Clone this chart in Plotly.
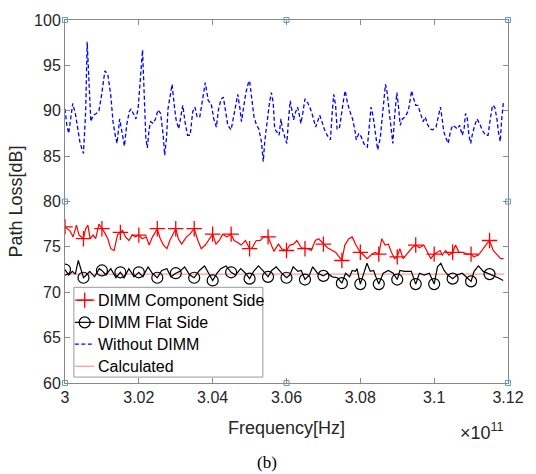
import numpy as np
import plotly.graph_objects as go

# ---------------- data (frequency in GHz, path loss in dB) ----------------
blue_f = [300.0, 300.05, 300.10, 300.17, 300.21, 300.28, 300.35, 300.41, 300.50, 300.56,
          300.60, 300.65, 300.70, 300.76, 300.85, 300.92, 300.99, 301.08, 301.16, 301.24,
          301.30, 301.36, 301.41, 301.48, 301.54, 301.61, 301.67, 301.74, 301.79, 301.86,
          301.92, 301.98, 302.04, 302.10, 302.14, 302.19, 302.23, 302.28, 302.32, 302.39,
          302.45, 302.52, 302.59, 302.66, 302.70, 302.75, 302.79, 302.85, 302.90, 302.96,
          303.01, 303.08, 303.14, 303.19, 303.25, 303.32, 303.39, 303.46, 303.52, 303.58,
          303.65, 303.72, 303.80, 303.88, 303.96, 304.03, 304.10, 304.16, 304.23, 304.29,
          304.35, 304.41, 304.50, 304.56, 304.63, 304.68, 304.74, 304.78, 304.84, 304.90,
          304.97, 305.00, 305.06, 305.12, 305.19, 305.25, 305.32, 305.37, 305.41, 305.48,
          305.54, 305.59, 305.64, 305.68, 305.74, 305.80, 305.85, 305.89, 305.96, 306.01,
          306.05, 306.10, 306.14, 306.19, 306.25, 306.30, 306.35, 306.39, 306.44, 306.50,
          306.57, 306.63, 306.69, 306.75, 306.79, 306.84, 306.90, 306.96, 307.03, 307.10,
          307.19, 307.24, 307.28, 307.33, 307.37, 307.43, 307.49, 307.55, 307.59, 307.65,
          307.72, 307.79, 307.85, 307.89, 307.96, 308.03, 308.05, 308.12, 308.19, 308.23,
          308.29, 308.35, 308.41, 308.47, 308.54, 308.61, 308.68, 308.72, 308.78, 308.84,
          308.88, 308.93, 308.99, 309.03, 309.08, 309.14, 309.21, 309.30, 309.39, 309.43,
          309.50, 309.56, 309.63, 309.70, 309.76, 309.81, 309.88, 309.96, 310.05, 310.11,
          310.17, 310.21, 310.26, 310.32, 310.38, 310.44, 310.50, 310.57, 310.63, 310.69,
          310.76, 310.81, 310.85, 310.90, 310.94, 310.99, 311.03, 311.10, 311.16, 311.23,
          311.30, 311.39, 311.46, 311.52, 311.58, 311.64, 311.70, 311.74, 311.79, 311.83,
          311.88]
blue_v = [90.2, 88.4, 87.5, 89.9, 90.8, 89.7, 87.7, 86.4, 85.3, 89.9,
          97.6, 92.4, 88.8, 89.5, 89.7, 90.0, 91.7, 94.4, 94.0, 91.7,
          88.8, 87.3, 86.4, 89.1, 87.7, 86.1, 88.4, 89.9, 90.2, 89.5,
          89.1, 90.2, 93.1, 96.7, 92.4, 87.0, 85.9, 88.0, 88.8, 88.6,
          89.1, 90.1, 89.7, 87.3, 85.1, 87.0, 90.2, 92.0, 92.9, 90.6,
          89.0, 88.0, 89.5, 90.6, 88.8, 87.3, 87.3, 89.9, 90.4, 89.3,
          89.3, 91.0, 93.1, 91.1, 90.8, 89.1, 88.2, 90.2, 91.3, 91.5,
          89.9, 88.4, 87.9, 89.1, 90.8, 91.8, 90.2, 88.8, 90.4, 92.0,
          93.1, 93.3, 91.3, 89.3, 88.4, 88.0, 86.6, 84.4, 86.6, 89.1,
          90.9, 92.0, 90.9, 88.0, 87.7, 87.3, 89.1, 88.0, 87.0, 86.4,
          88.8, 91.1, 90.2, 89.0, 89.9, 90.4, 89.5, 88.6, 89.7, 91.3,
          90.9, 90.4, 89.7, 88.8, 88.2, 88.8, 89.5, 88.8, 87.9, 87.3,
          86.8, 89.9, 91.8, 90.6, 88.0, 88.0, 89.9, 91.3, 92.2, 90.9,
          89.9, 89.1, 87.9, 86.8, 87.5, 87.1, 86.8, 86.2, 86.0, 88.0,
          90.4, 89.3, 87.3, 85.7, 87.0, 89.9, 92.9, 92.2, 89.9, 88.0,
          86.4, 89.5, 92.0, 90.6, 88.4, 89.1, 89.3, 90.0, 92.2, 91.5,
          90.6, 90.6, 89.7, 88.8, 89.3, 88.6, 88.0, 87.9, 88.2, 89.3,
          90.4, 89.3, 87.7, 87.0, 86.4, 87.7, 88.4, 88.2, 88.0, 88.4,
          87.3, 88.0, 89.7, 89.1, 87.3, 86.4, 87.3, 88.4, 89.1, 88.6,
          87.9, 87.3, 87.3, 89.1, 90.6, 90.4, 89.1, 87.7, 86.6, 89.1,
          91.1]

red_f = [300.0, 300.13, 300.22, 300.31, 300.38, 300.5, 300.56, 300.62, 300.68, 300.76,
         300.83, 300.92, 301.0, 301.07, 301.16, 301.24, 301.33, 301.42, 301.5, 301.56,
         301.64, 301.73, 301.82, 301.91, 302.0, 302.09, 302.2, 302.28, 302.37, 302.5,
         302.58, 302.67, 302.76, 302.84, 303.0, 303.07, 303.16, 303.29, 303.38, 303.5,
         303.6, 303.69, 303.8, 303.88, 304.0, 304.09, 304.18, 304.27, 304.38, 304.5,
         304.58, 304.67, 304.77, 304.89, 305.0, 305.07, 305.18, 305.29, 305.38, 305.5,
         305.56, 305.66, 305.78, 305.87, 306.0, 306.09, 306.19, 306.28, 306.4, 306.5,
         306.58, 306.67, 306.78, 306.87, 307.0, 307.11, 307.24, 307.33, 307.5, 307.58,
         307.69, 307.78, 307.88, 308.0, 308.09, 308.18, 308.29, 308.4, 308.5, 308.58,
         308.67, 308.76, 308.84, 308.93, 309.0, 309.07, 309.16, 309.29, 309.4, 309.5,
         309.6, 309.72, 309.83, 309.91, 310.0, 310.07, 310.16, 310.22, 310.31, 310.4,
         310.5, 310.58, 310.67, 310.78, 310.89, 311.0, 311.07, 311.2, 311.32, 311.42,
         311.5, 311.6, 311.69, 311.8, 311.88]
red_v = [77.2, 76.8, 76.1, 77.4, 76.3, 75.9, 77.0, 77.4, 75.9, 76.3,
         75.9, 77.5, 77.0, 76.6, 75.9, 74.8, 74.6, 76.3, 76.6, 76.8,
         76.1, 75.7, 76.3, 76.1, 76.3, 75.9, 76.1, 75.2, 76.1, 77.0,
         75.9, 75.2, 74.8, 75.7, 77.0, 75.9, 75.3, 76.1, 76.4, 77.0,
         75.7, 74.8, 75.2, 75.7, 76.4, 75.3, 75.7, 76.4, 76.1, 76.4,
         75.7, 75.5, 75.2, 75.7, 74.8, 74.9, 75.7, 75.7, 76.1, 76.1,
         75.5, 74.5, 75.3, 74.8, 74.6, 75.2, 75.3, 75.7, 74.9, 74.8,
         74.8, 74.6, 75.7, 75.9, 75.3, 74.9, 74.6, 74.4, 73.5, 75.2,
         75.9, 76.1, 75.2, 74.4, 74.1, 73.7, 74.1, 74.4, 74.2, 75.9,
         75.2, 75.3, 74.4, 73.7, 73.9, 74.8, 73.7, 74.4, 74.9, 75.2,
         74.9, 75.2, 74.4, 73.7, 74.2, 74.4, 74.6, 74.1, 74.6, 74.1,
         74.4, 75.2, 74.4, 74.4, 74.2, 74.2, 73.9, 74.1, 74.8, 75.3,
         75.7, 74.6, 74.2, 73.7, 73.7]

black_f = [300.0, 300.1, 300.2, 300.28, 300.36, 300.5, 300.58, 300.67, 300.8, 300.93,
           301.0, 301.11, 301.24, 301.38, 301.5, 301.6, 301.73, 301.87, 302.0, 302.11,
           302.25, 302.36, 302.5, 302.62, 302.76, 302.87, 303.0, 303.11, 303.24, 303.38,
           303.5, 303.64, 303.78, 303.88, 304.0, 304.12, 304.22, 304.36, 304.5, 304.62,
           304.76, 304.89, 305.0, 305.11, 305.24, 305.38, 305.5, 305.6, 305.72, 305.87,
           306.0, 306.09, 306.18, 306.31, 306.4, 306.5, 306.62, 306.71, 306.84, 307.0,
           307.11, 307.24, 307.38, 307.5, 307.6, 307.71, 307.78, 307.87, 307.91, 308.0,
           308.09, 308.18, 308.27, 308.36, 308.42, 308.5, 308.62, 308.76, 308.89, 309.0,
           309.07, 309.2, 309.38, 309.5, 309.6, 309.73, 309.87, 310.0, 310.09, 310.18,
           310.27, 310.37, 310.5, 310.62, 310.76, 310.87, 311.0, 311.08, 311.2, 311.33,
           311.5, 311.6, 311.73, 311.87]
black_v = [72.5, 71.9, 72.3, 72.0, 73.5, 71.6, 71.9, 72.3, 71.7, 72.6,
           72.4, 71.9, 72.6, 71.6, 72.2, 71.6, 72.6, 71.7, 72.2, 71.7,
           72.8, 72.1, 71.6, 72.4, 72.6, 71.7, 72.1, 72.3, 72.8, 71.9,
           71.6, 72.4, 72.9, 72.1, 71.3, 72.1, 72.6, 72.9, 72.2, 71.9,
           72.6, 72.1, 71.5, 72.3, 72.9, 72.3, 71.7, 72.4, 72.8, 72.1,
           71.6, 71.9, 72.8, 72.3, 72.4, 71.4, 71.9, 72.8, 72.1, 71.8,
           72.1, 71.7, 71.6, 71.0, 72.1, 71.7, 72.4, 72.3, 72.6, 70.9,
           72.1, 73.2, 72.3, 72.4, 71.7, 70.9, 72.1, 72.4, 72.1, 71.4,
           72.4, 72.3, 72.3, 70.9, 72.1, 71.9, 72.1, 70.9, 72.8, 73.2,
           72.4, 71.9, 71.5, 71.9, 72.1, 71.7, 71.2, 72.3, 72.9, 72.3,
           72.0, 71.9, 71.6, 71.3]

calc_f = [300.0, 311.9]
calc_v = [72.0, 72.0]

names = ["DIMM Component Side", "DIMM Flat Side", "Without DIMM", "Calculated"]
x_ticks = [3.0, 3.02, 3.04, 3.06, 3.08, 3.1, 3.12]
x_ticktext = ["3", "3.02", "3.04", "3.06", "3.08", "3.1", "3.12"]
y_ticks = [60, 65, 70, 75, 80, 85, 90, 95, 100]
x_range = [3.0, 3.12]
y_range = [60, 100]

# ---------------- helpers ----------------
def to_e11(f):
    return np.array(f) / 100.0  # GHz -> units of 1e11 Hz


def marker_subset(f, v):
    f = np.array(f)
    v = np.array(v)
    m = np.abs(f * 2 - np.round(f * 2)) < 1e-6
    return to_e11(f[m]), v[m]


FONT = "Liberation Sans, Arial, Helvetica, sans-serif"
RED = "#ff0000"
BLUE = "#0000ff"
BLACK = "#000000"
CALC = "#ff8080"
DASH = "4px,2.5px"

RED_MARK = dict(symbol="cross-thin-open", size=11, color=RED, line=dict(color=RED, width=1.3))
BLK_MARK = dict(symbol="circle-open", size=11, color=BLACK, line=dict(color=BLACK, width=1.2))

fig = go.Figure()

# data lines
fig.add_trace(go.Scatter(x=to_e11(blue_f), y=blue_v, mode="lines", name=names[2],
                         line=dict(color=BLUE, width=1.3, dash=DASH)))
fig.add_trace(go.Scatter(x=to_e11(calc_f), y=calc_v, mode="lines", name=names[3],
                         line=dict(color=CALC, width=1)))
fig.add_trace(go.Scatter(x=to_e11(red_f), y=red_v, mode="lines", name=names[0],
                         line=dict(color=RED, width=1.2)))
fig.add_trace(go.Scatter(x=to_e11(black_f), y=black_v, mode="lines", name=names[1],
                         line=dict(color=BLACK, width=1.2)))

# markers on subsets of the data
rx, ry = marker_subset(red_f, red_v)
fig.add_trace(go.Scatter(x=rx, y=ry, mode="markers", marker=RED_MARK))
bx, by = marker_subset(black_f, black_v)
fig.add_trace(go.Scatter(x=bx, y=by, mode="markers", marker=BLK_MARK))

# selection handles (corners and mid points of the axes box)
xm = (x_range[0] + x_range[1]) / 2
ym = (y_range[0] + y_range[1]) / 2
hx = [x_range[0], xm, x_range[1], x_range[1], x_range[1], xm, x_range[0], x_range[0]]
hy = [y_range[1], y_range[1], y_range[1], ym, y_range[0], y_range[0], y_range[0], ym]
fig.add_trace(go.Scatter(x=hx, y=hy, mode="markers", cliponaxis=False,
                         marker=dict(symbol="square-open", size=5, color="#5b9bd5",
                                     line=dict(color="#5b9bd5", width=1)),
                         hoverinfo="skip"))

# ---------------- hand-made legend (overlay axes in plot-area pixels) ----------------
PW, PH = 450, 368  # plot area size in px
LX0, LX1, LY0, LY1 = 9, 201, 271, 362  # legend box
row_y = [284, 306.5, 328.5, 351]
sx0, sx1, sxm, tx = 10, 30, 20, 31

fig.add_trace(go.Scatter(x=[LX0, LX1, LX1, LX0, LX0], y=[LY0, LY0, LY1, LY1, LY0],
                         xaxis="x2", yaxis="y2", mode="lines", fill="toself",
                         fillcolor="white", line=dict(color="#9a9a9a", width=1),
                         hoverinfo="skip"))
legend_styles = [
    dict(line=dict(color=RED, width=1.2), marker=RED_MARK),
    dict(line=dict(color=BLACK, width=1.2), marker=BLK_MARK),
    dict(line=dict(color=BLUE, width=1.3, dash=DASH), marker=None),
    dict(line=dict(color=CALC, width=1), marker=None),
]
annotations = []
for nm, ry_, st in zip(names, row_y, legend_styles):
    fig.add_trace(go.Scatter(x=[sx0, sx1], y=[ry_, ry_], xaxis="x2", yaxis="y2",
                             mode="lines", line=st["line"], hoverinfo="skip"))
    if st["marker"] is not None:
        fig.add_trace(go.Scatter(x=[sxm], y=[ry_], xaxis="x2", yaxis="y2",
                                 mode="markers", marker=st["marker"], hoverinfo="skip"))
    annotations.append(dict(text=nm, x=tx, y=ry_, xref="x2", yref="y2",
                            xanchor="left", yanchor="middle", showarrow=False,
                            font=dict(family=FONT, size=16, color="#000000")))

annotations += [
    dict(text="×10<sup>11</sup>", x=0.996, y=-0.133, xref="paper", yref="paper",
         xanchor="right", yanchor="middle", showarrow=False,
         font=dict(family=FONT, size=18, color="#262626")),
    dict(text="(b)", x=0.455, y=-0.218, xref="paper", yref="paper",
         xanchor="center", yanchor="middle", showarrow=False,
         font=dict(family="Liberation Serif, Times New Roman, serif", size=17, color="#000000")),
]

axis_common = dict(showline=True, mirror="ticks", linecolor="#8a8a8a", linewidth=1,
                   ticks="inside", ticklen=5, tickcolor="#8a8a8a", showgrid=False,
                   zeroline=False, tickfont=dict(family=FONT, size=16, color="#262626"))

fig.update_layout(
    width=536, height=474,
    margin=dict(l=65, r=21, t=15, b=91),
    paper_bgcolor="white", plot_bgcolor="white",
    showlegend=False,
    font=dict(family=FONT, color="#262626"),
    xaxis=dict(range=x_range, tickvals=x_ticks, ticktext=x_ticktext,
               title=dict(text="Frequency[Hz]", font=dict(size=18, family=FONT, color="#262626"),
                          standoff=16),
               **axis_common),
    yaxis=dict(range=y_range, tickvals=y_ticks,
               title=dict(text="Path Loss[dB]", font=dict(size=18, family=FONT, color="#262626"),
                          standoff=6),
               **axis_common),
    xaxis2=dict(overlaying="x", range=[0, PW], visible=False, fixedrange=True),
    yaxis2=dict(overlaying="y", range=[PH, 0], visible=False, fixedrange=True),
    annotations=annotations,
)

fig.write_html("out.html")
